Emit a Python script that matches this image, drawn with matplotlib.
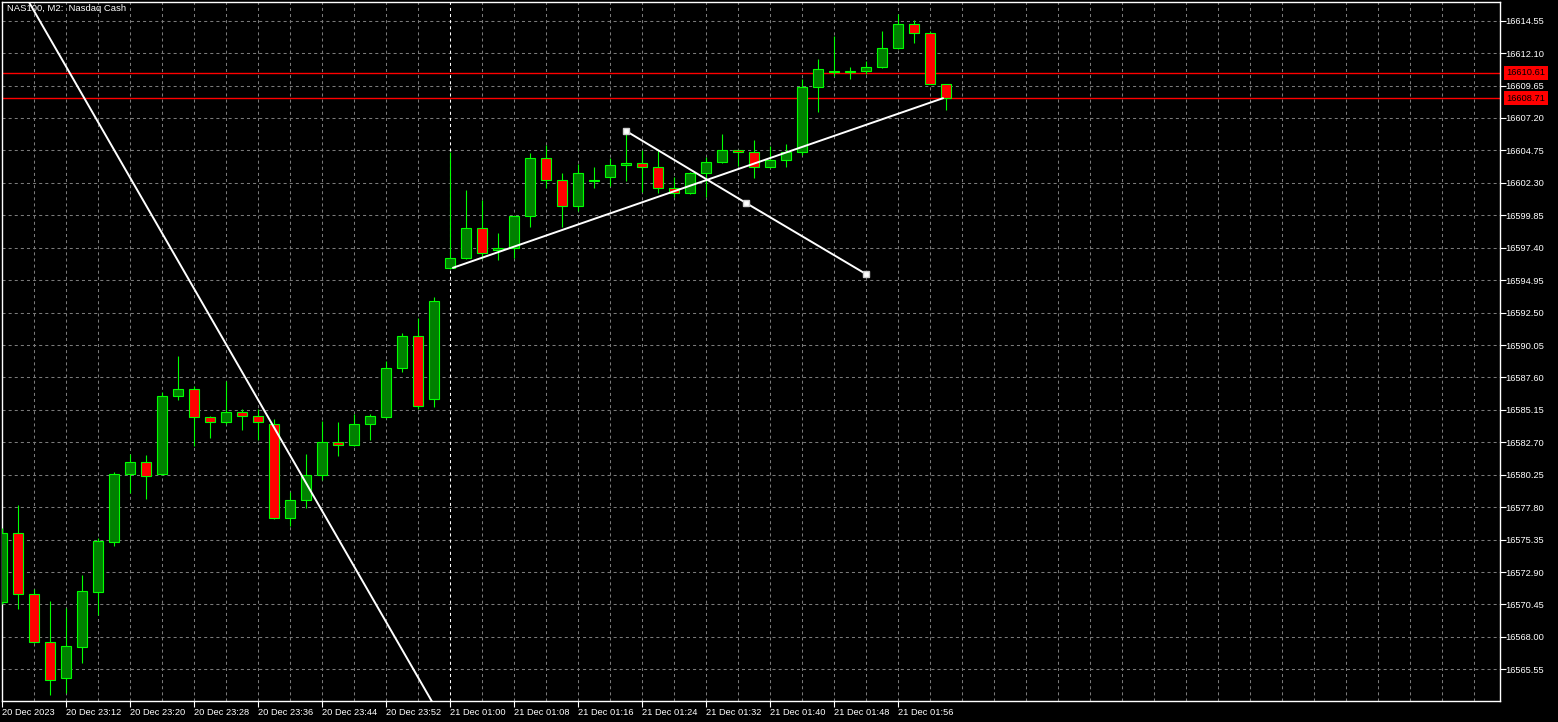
import matplotlib
matplotlib.use("Agg")
import matplotlib.pyplot as plt
import matplotlib.transforms as mtransforms

plt.rcParams["font.family"] = ["Liberation Sans", "DejaVu Sans"]
plt.rcParams["lines.scale_dashes"] = False

SYMBOL = "NAS100, M2:  Nasdaq Cash"

opens = [16570.66, 16575.82, 16571.22, 16567.59, 16564.92, 16567.21, 16571.41, 16575.19,
         16580.28, 16581.19, 16580.28, 16586.18, 16586.70, 16584.59, 16584.21, 16584.97,
         16584.66, 16584.06, 16576.96, 16578.32, 16580.21, 16582.70, 16582.47, 16584.06,
         16584.59, 16588.29, 16590.71, 16585.95, 16595.85, 16596.60, 16598.87, 16597.25,
         16597.36, 16599.77, 16604.16, 16602.49, 16600.53, 16602.46, 16602.72, 16603.63,
         16603.78, 16603.48, 16601.89, 16601.51, 16603.02, 16603.85, 16604.76, 16604.61,
         16603.48, 16604.00, 16604.61, 16609.52, 16610.70, 16610.70, 16610.73, 16611.03,
         16612.47, 16614.28, 16613.60, 16609.75]
highs = [16576.22, 16577.96, 16571.62, 16570.71, 16570.16, 16572.67, 16575.49, 16580.46,
         16581.84, 16581.74, 16586.48, 16589.22, 16586.95, 16584.69, 16587.35, 16585.22,
         16585.22, 16584.46, 16578.95, 16581.82, 16584.31, 16584.23, 16584.84, 16584.81,
         16588.84, 16590.96, 16592.09, 16593.70, 16604.63, 16601.76, 16601.01, 16598.51,
         16599.80, 16604.56, 16605.16, 16603.04, 16603.70, 16603.50, 16604.16, 16606.07,
         16604.78, 16604.78, 16602.77, 16603.10, 16604.23, 16605.99, 16604.80, 16605.54,
         16605.06, 16605.24, 16610.12, 16611.66, 16613.37, 16611.05, 16611.48, 16613.77,
         16615.03, 16614.58, 16613.77, 16609.80]
lows = [16570.48, 16570.08, 16567.55, 16563.63, 16563.74, 16566.05, 16569.65, 16574.89,
        16578.89, 16578.44, 16580.20, 16585.92, 16582.44, 16583.05, 16584.06, 16583.65,
        16582.85, 16576.90, 16576.35, 16577.76, 16579.87, 16581.69, 16582.40, 16582.90,
        16584.50, 16588.03, 16585.19, 16585.39, 16595.80, 16596.55, 16596.53, 16596.49,
        16596.60, 16598.99, 16601.93, 16598.99, 16600.20, 16601.93, 16602.09, 16602.46,
        16601.63, 16601.51, 16601.25, 16601.45, 16601.25, 16603.78, 16603.55, 16602.69,
        16603.45, 16603.48, 16604.38, 16607.63, 16610.35, 16610.12, 16610.50, 16611.00,
        16612.45, 16612.84, 16609.75, 16607.78]
closes = [16575.82, 16571.22, 16567.59, 16564.72, 16567.29, 16571.47, 16575.24, 16580.31,
          16581.19, 16580.18, 16586.18, 16586.70, 16584.59, 16584.21, 16584.97, 16584.66,
          16584.21, 16576.96, 16578.32, 16580.21, 16582.70, 16582.47, 16584.06, 16584.66,
          16588.29, 16590.71, 16585.42, 16593.35, 16596.60, 16598.87, 16596.98, 16597.40,
          16599.77, 16604.16, 16602.49, 16600.53, 16603.02, 16602.49, 16603.63, 16603.78,
          16603.48, 16601.89, 16601.51, 16603.02, 16603.85, 16604.76, 16604.61, 16603.48,
          16604.00, 16604.61, 16609.52, 16610.88, 16610.73, 16610.73, 16611.03, 16612.47,
          16614.28, 16613.60, 16609.75, 16608.71]

# time labels every 4 bars (2 minute bars)
time_label_bars = list(range(0, 60, 4))
time_labels = ["20 Dec 2023", "20 Dec 23:12", "20 Dec 23:20", "20 Dec 23:28", "20 Dec 23:36",
               "20 Dec 23:44", "20 Dec 23:52", "21 Dec 01:00", "21 Dec 01:08", "21 Dec 01:16",
               "21 Dec 01:24", "21 Dec 01:32", "21 Dec 01:40", "21 Dec 01:48", "21 Dec 01:56"]
day_break_bar = 28

price_ticks = [16565.55, 16568.00, 16570.45, 16572.90, 16575.35, 16577.80, 16580.25,
               16582.70, 16585.15, 16587.60, 16590.05, 16592.50, 16594.95, 16597.40,
               16599.85, 16602.30, 16604.75, 16607.20, 16609.65, 16612.10, 16614.55]

ask_price = 16610.61
bid_price = 16608.71

# drawn objects (bar index, price)
trend1_bars = [1.5, 27.0]
trend1_prices = [16616.34, 16562.85]
trend2_bars = [28.2, 58.8]
trend2_prices = [16595.89, 16608.69]
trend3_bars = [39.0, 46.5, 54.0]
trend3_prices = [16606.22, 16600.78, 16595.41]

W, H = 1558, 722
fig = plt.figure(figsize=(W / 100, H / 100), dpi=100, facecolor="black")
ax = fig.add_axes([2 / W, 21 / H, 1498 / W, 699 / H], facecolor="black")
ax.set_xlim(0, 93.625)
ax.set_ylim(16563.156, 16615.963)

GREEN_EDGE = "#00ff00"
bars = list(range(len(opens)))

ax.vlines(bars, lows, highs, color=GREEN_EDGE, lw=0.8, zorder=3)
for i in bars:
    o, c = opens[i], closes[i]
    fill = "#008000" if c >= o else "#ff0000"
    ax.bar(i, abs(c - o), bottom=min(o, c), width=0.58, color=fill,
           edgecolor=GREEN_EDGE, linewidth=0.8, zorder=4)

# grid
dash = (0, (2.2, 2.2))
for p in price_ticks:
    ax.axhline(p, color="#7a7a7a", lw=0.75, ls=dash, zorder=1)
for b in range(2, 94, 2):
    if b == day_break_bar:
        ax.axvline(b, color="white", lw=0.75, ls=dash, zorder=1)
    else:
        ax.axvline(b, color="#7a7a7a", lw=0.75, ls=dash, zorder=1)

# price lines
ax.axhline(ask_price, color="#ff0000", lw=1.0, zorder=2)
ax.axhline(bid_price, color="#ff0000", lw=1.0, zorder=2)

# trendlines
ax.plot(trend1_bars, trend1_prices, color="white", lw=1.4, zorder=5)
ax.plot(trend2_bars, trend2_prices, color="white", lw=1.4, zorder=5)
ax.plot(trend3_bars, trend3_prices, color="white", lw=1.4, zorder=5,
        marker="s", markersize=4, markerfacecolor="white", markeredgecolor="#cccccc")

# axes styling
for s in ax.spines.values():
    s.set_color("white")
    s.set_linewidth(1)

ax.set_xticks(time_label_bars)
ax.set_xticklabels(time_labels)
for lab in ax.get_xticklabels():
    lab.set_horizontalalignment("left")
ax.yaxis.tick_right()
ax.set_yticks(price_ticks)
ax.set_yticklabels([f"{p:.2f}" for p in price_ticks])
ax.tick_params(axis="both", colors="white", labelcolor="white", labelsize=6.7,
               length=4, width=0.8, pad=1)
ax.tick_params(axis="y", pad=0)

trans = mtransforms.blended_transform_factory(ax.transAxes, ax.transData)
for p in (ask_price, bid_price):
    ax.text(1.0045, p, f"{p:.2f}", transform=trans, ha="left", va="center",
            fontsize=6.7, color="black", zorder=10, clip_on=False,
            bbox=dict(boxstyle="square,pad=0.28", facecolor="#ff0000", edgecolor="none"))

fig.text(7 / W, 1 - 4 / H, SYMBOL, color="white", fontsize=6.8, ha="left", va="top")

fig.savefig("out.png", dpi=100, facecolor="black")
